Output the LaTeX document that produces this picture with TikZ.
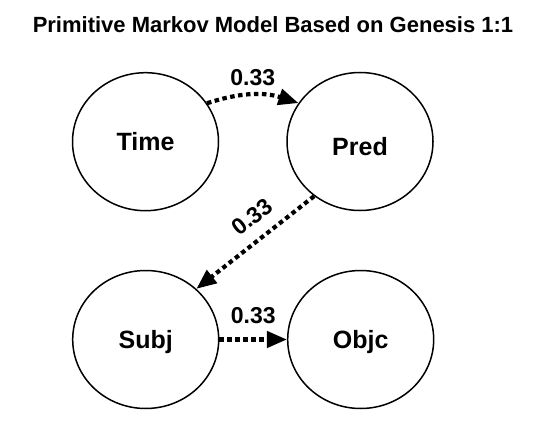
\documentclass[tikz,border=0pt]{standalone}
\usepackage{fontspec}
\setmainfont{Liberation Sans}
\usetikzlibrary{arrows.meta,shapes.geometric}
\begin{document}
\begin{tikzpicture}[x=1pt,y=-1pt,
  state/.style={ellipse,draw,line width=1.5pt,minimum width=146pt,minimum height=138pt,inner sep=0pt,
    font=\bfseries\fontsize{25}{30}\selectfont,text depth=0pt},
  trans/.style={line width=4.2pt,dash pattern=on 4.5pt off 3.5pt,-{Triangle[length=20pt,width=16pt]}},
  prob/.style={font=\bfseries\fontsize{23}{27}\selectfont,inner sep=0pt,text depth=0pt}]
\useasboundingbox (0,0) rectangle (543,422);
\node[font=\bfseries\fontsize{22}{27}\selectfont,inner sep=0pt,text depth=0pt] (title) at (273,25) {Primitive Markov Model Based on Genesis 1:1};
\node[state] (time) at (145.5,141.7) {Time};
\node[state] (pred) at (360,141.5) {\raisebox{-10pt}{Pred}};
\node[state] (subj) at (145.7,339.5) {Subj};
\node[state] (objc) at (360.7,339.5) {Objc};
\draw[trans] (time.32) to[bend left=18] node[prob,above=7pt] (p1) {0.33} (pred.148);
\draw[trans] (pred.230) -- node[prob,sloped,above=12pt,pos=0.41] (p2) {0.33} (subj.45);
\draw[trans] (subj) -- node[prob,above=14pt] (p3) {0.33} (objc);
\end{tikzpicture}
\end{document}
